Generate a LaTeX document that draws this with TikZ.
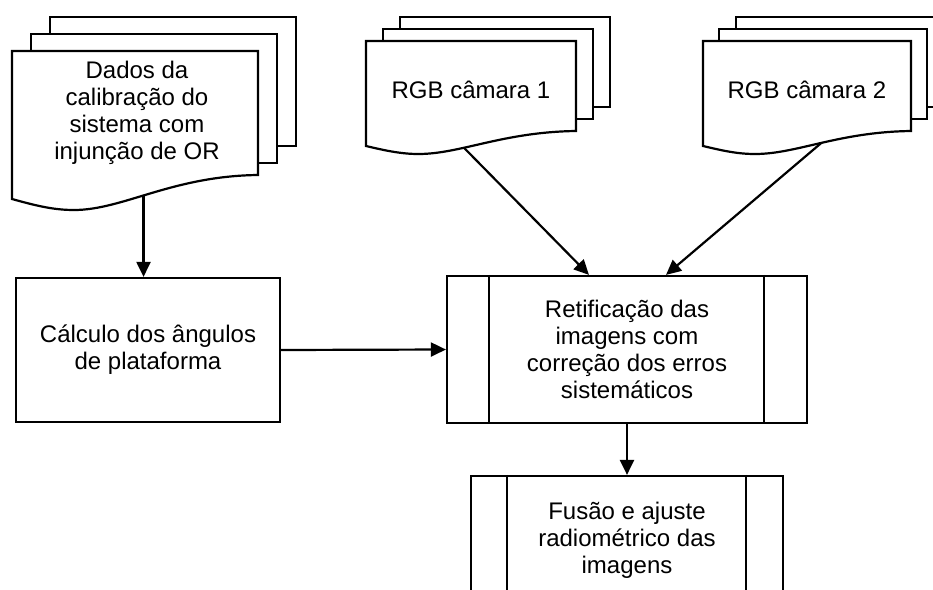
\documentclass[tikz,border=0pt]{standalone}
\usepackage{fontspec}
\setmainfont{Liberation Sans}
\usepackage{tikz}
\usetikzlibrary{positioning,arrows.meta,calc}
\newcommand{\flowfont}{\fontsize{24}{27}\selectfont}
\tikzset{
  page/.style={draw, fill=white},
  doclabel/.style={align=center, font=\flowfont},
  procbox/.style={draw, fill=white, align=center, font=\flowfont},
}
\begin{document}
\begin{tikzpicture}[x=1pt, y=-1pt, line width=2.2pt, >={Triangle[length=15pt,width=14pt]}]
  \useasboundingbox (0,0) rectangle (933,589);
  \clip (0,0) rectangle (933,589);

  % Calibration data (stacked documents)
  \foreach \dx/\dy in {38/34, 19/17}
    \draw[page] (12+\dx,51-\dy) rectangle ++(246,129);
  \draw[page] (12,199) .. controls (37,206) and (54,210) .. (74,210)
    .. controls (123,210) and (172,176) .. (258,175) coordinate[pos=.45] (dadosout)
    -- (258,51) -- (12,51) -- cycle;
  \node[doclabel] (dados) at (137,113) {Dados da\\calibração do\\sistema com\\injunção de OR};

  % Camera 1 images
  \foreach \dx/\dy in {34/24, 17/12}
    \draw[page] (366+\dx,41-\dy) rectangle ++(210,90);
  \draw[page] (366,146) .. controls (387,151) and (402,154) .. (418.5,154)
    .. controls (460.5,154) and (502.5,132) .. (576,131) coordinate[pos=.35] (rgbaout)
    -- (576,41) -- (366,41) -- cycle;
  \node[doclabel] (rgba) at (471,90) {RGB câmara 1};

  % Camera 2 images
  \foreach \dx/\dy in {33/24, 16/12}
    \draw[page] (703+\dx,41-\dy) rectangle ++(208,90);
  \draw[page] (703,146) .. controls (724,151) and (738,154) .. (755,154)
    .. controls (797,154) and (838,132) .. (911,131) coordinate[pos=.5] (rgbbout)
    -- (911,41) -- (703,41) -- cycle;
  \node[doclabel] (rgbb) at (807,90) {RGB câmara 2};

  % Processing steps
  \node[procbox, minimum width=264pt, minimum height=144pt] (calculo) at (148,350)
    {Cálculo dos ângulos\\de plataforma};
  \node[procbox, minimum width=360pt, minimum height=147pt] (retif) at (627,349.5)
    {Retificação das\\imagens com\\correção dos erros\\sistemáticos};
  \draw ([xshift=43pt]retif.north west) -- ([xshift=43pt]retif.south west);
  \draw ([xshift=-44pt]retif.north east) -- ([xshift=-44pt]retif.south east);
  \node[procbox, minimum width=312pt, minimum height=128pt] (fusao) at (627,540)
    {Fusão e ajuste\\radiométrico das\\imagens};
  \draw ([xshift=37pt]fusao.north west) -- ([xshift=37pt]fusao.south west);
  \draw ([xshift=-38pt]fusao.north east) -- ([xshift=-38pt]fusao.south east);

  % Flow
  \draw[->] (dadosout) -- (dadosout |- calculo.north);
  \draw[->] (calculo.east) -- (retif.west);
  \draw[->] (rgbaout) -- ([xshift=-38pt]retif.north);
  \draw[->] (rgbbout) -- ([xshift=39pt]retif.north);
  \draw[->] (retif.south) -- (fusao.north);
\end{tikzpicture}
\end{document}
